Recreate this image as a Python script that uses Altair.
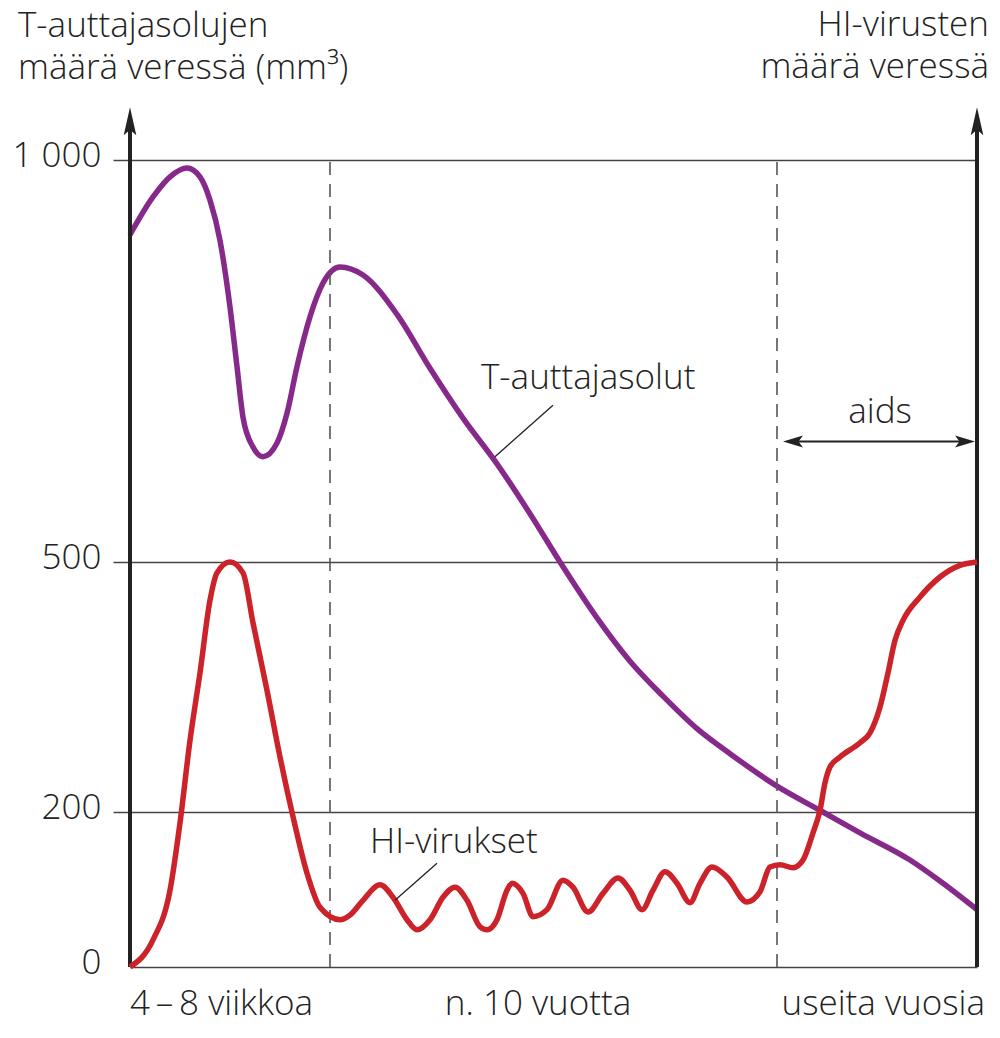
import altair as alt
import pandas as pd

# ---- data (x = position along the time axis, 0..847) ----
t_x = [0, 23, 40, 57, 70, 80, 90, 100, 107, 113, 123, 133, 147, 157, 167, 180, 193, 210, 233, 267,
       300, 333, 367, 400, 430, 467, 500, 533, 567, 600, 647, 693, 730, 780, 813, 847]
t_y = [907, 954, 979, 990, 979, 950, 900, 817, 743, 680, 643, 631, 648, 685, 743, 805, 847, 867, 857, 808,
       741, 679, 622, 560, 500, 433, 381, 339, 300, 270, 231, 200, 173, 138, 108, 74]

h_x = [0, 23, 40, 50, 60, 70, 80, 87, 100, 113, 123, 137, 150, 163, 177, 190, 210, 220, 233, 250,
       263, 277, 287, 300, 313, 325, 337, 350, 357, 367, 377, 382, 393, 403, 417, 433, 443, 458, 473, 488,
       500, 512, 523, 535, 547, 560, 570, 582, 597, 617, 630, 640, 650, 663, 673, 683, 690, 695, 700, 710,
       730, 740, 750, 758, 765, 773, 790, 810, 830, 847]
h_y = [0, 35, 99, 186, 286, 367, 454, 487, 500, 487, 427, 346, 266, 194, 121, 77, 61, 67, 86, 106,
       90, 61, 48, 61, 90, 103, 86, 52, 48, 61, 99, 108, 95, 65, 74, 112, 103, 71, 95, 115,
       99, 74, 99, 123, 108, 83, 108, 129, 116, 84, 97, 129, 132, 128, 138, 173, 202, 235, 254, 266,
       283, 295, 326, 367, 406, 430, 458, 482, 496, 500]

y_ticks = [0, 200, 500, 1000]
phase_bounds = [200, 647]
phase_labels = ["4\u2009–\u20098 viikkoa", "n. 10 vuotta", "useita vuosia"]
phase_label_x = [0, 408, 855]
title_left = ["T-auttajasolujen", "määrä veressä (mm³)"]
title_right = ["HI-virusten", "määrä veressä"]
X_MAX = 847

FONT = "Open Sans"
FS = 35
INK = "#222222"
GRID = "#444444"
PURPLE = "#87298A"
RED = "#CC2229"
ARROW = "M0,-1L0.45,1L0,0.6L-0.45,1Z"
ARROW2 = "M0,-1L0.6,1L0,0.55L-0.6,1Z"

x_scale = alt.Scale(domain=[0, X_MAX], nice=False, zero=False)
y_scale = alt.Scale(domain=[0, 200, 500, 1000, 1062], range=[857, 702, 452, 50, 0],
                    nice=False, zero=False)

y_axis = alt.Axis(
    values=y_ticks,
    labelExpr="datum.value == 1000 ? '1 000' : datum.label",
    grid=True, gridColor=GRID, gridWidth=1.5,
    domain=False,
    ticks=True, tickSize=17, tickColor=GRID, tickWidth=1.5,
    tickOpacity={"condition": {"test": "datum.value == 0", "value": 0}, "value": 1},
    labelFont=FONT, labelFontSize=FS, labelFontWeight=300, labelColor=INK,
    labelPadding=12, labelOffset=-5, title=None,
)


def X(f="x"):
    return alt.X(f"{f}:Q", scale=x_scale, axis=None)


def Y(f="y"):
    return alt.Y(f"{f}:Q", scale=y_scale, axis=y_axis)


t_df = pd.DataFrame({"x": t_x, "y": t_y})
h_df = pd.DataFrame({"x": h_x, "y": h_y})

t_line = alt.Chart(t_df).mark_line(color=PURPLE, strokeWidth=5.5, interpolate="monotone").encode(
    x=X(), y=Y()
)
h_line = alt.Chart(h_df).mark_line(color=RED, strokeWidth=5.5, interpolate="monotone").encode(
    x=X(), y=Y()
)

dash_df = pd.DataFrame({"x": phase_bounds, "y": [0, 0], "y2": [1000, 1000]})
dashed = alt.Chart(dash_df).mark_rule(color="#555555", strokeWidth=1.6, strokeDash=[13, 9]).encode(
    x=X(), y=Y(), y2="y2:Q"
)

axes_df = pd.DataFrame({"x": [0, X_MAX], "y": [0, 0], "y2": [1040, 1040]})
axes_lines = alt.Chart(axes_df).mark_rule(color=INK, strokeWidth=4).encode(x=X(), y=Y(), y2="y2:Q")

arrow_df = pd.DataFrame({"x": [0, X_MAX], "y": [1048, 1048]})
axis_arrows = alt.Chart(arrow_df).mark_point(
    shape=ARROW, filled=True, color=INK, size=784, opacity=1, strokeWidth=0
).encode(x=X(), y=Y())

# aids double arrow
aids_df = pd.DataFrame({"x": [660], "x2": [838], "y": [650]})
aids_rule = alt.Chart(aids_df).mark_rule(color=INK, strokeWidth=2).encode(x=X(), x2="x2:Q", y=Y())
aids_l = alt.Chart(pd.DataFrame({"x": [663], "y": [650]})).mark_point(
    shape=ARROW2, filled=True, color=INK, size=400, angle=270, opacity=1, strokeWidth=0
).encode(x=X(), y=Y())
aids_r = alt.Chart(pd.DataFrame({"x": [835], "y": [650]})).mark_point(
    shape=ARROW2, filled=True, color=INK, size=400, angle=90, opacity=1, strokeWidth=0
).encode(x=X(), y=Y())

# leader lines
lead_df = pd.DataFrame({"x": [423, 307], "y": [695, 134], "x2": [365, 265], "y2": [631, 86]})
leaders = alt.Chart(lead_df).mark_rule(color=INK, strokeWidth=1.3).encode(
    x=X(), y=Y(), x2="x2:Q", y2="y2:Q"
)

txt = dict(font=FONT, fontSize=FS, fontWeight=300, color=INK, baseline="alphabetic")

ann_left_df = pd.DataFrame({"x": [351, 240], "y": [715, 147], "t": ["T-auttajasolut", "HI-virukset"]})
ann_left = alt.Chart(ann_left_df).mark_text(align="left", **txt).encode(x=X(), y=Y(), text="t:N")
aids_txt = alt.Chart(pd.DataFrame({"x": [750], "y": [673], "t": ["aids"]})).mark_text(
    align="center", **txt).encode(x=X(), y=Y(), text="t:N")

ph_df = pd.DataFrame({"x": phase_label_x, "t": phase_labels})
ph_l = alt.Chart(ph_df.iloc[[0]]).mark_text(align="left", **txt).encode(
    x=X(), y=alt.value(905), text="t:N")
ph_c = alt.Chart(ph_df.iloc[[1]]).mark_text(align="center", **txt).encode(
    x=X(), y=alt.value(905), text="t:N")
ph_r = alt.Chart(ph_df.iloc[[2]]).mark_text(align="right", **txt).encode(
    x=X(), y=alt.value(905), text="t:N")

title_layers = []
for i, (tl_text, tr_text) in enumerate(zip(title_left, title_right)):
    base_y = -73 + 42 * i
    title_layers.append(
        alt.Chart(pd.DataFrame({"t": [tl_text]})).mark_text(align="left", **txt).encode(
            x=alt.value(-112), y=alt.value(base_y), text="t:N")
    )
    title_layers.append(
        alt.Chart(pd.DataFrame({"t": [tr_text]})).mark_text(align="right", **txt).encode(
            x=alt.value(859), y=alt.value(base_y - 1), text="t:N")
    )

chart = alt.layer(
    t_line, dashed, axes_lines, axis_arrows, h_line,
    aids_rule, aids_l, aids_r, leaders, ann_left, aids_txt,
    ph_l, ph_c, ph_r, *title_layers,
).resolve_scale(x="shared", y="shared").properties(
    width=847, height=857,
    autosize=alt.AutoSizeParams(type="none"),
    padding={"left": 122, "top": 102, "right": 15, "bottom": 58},
    background="white",
).configure_view(stroke=None)

chart.save("out.html", embed_options={"renderer": "svg", "actions": False})
